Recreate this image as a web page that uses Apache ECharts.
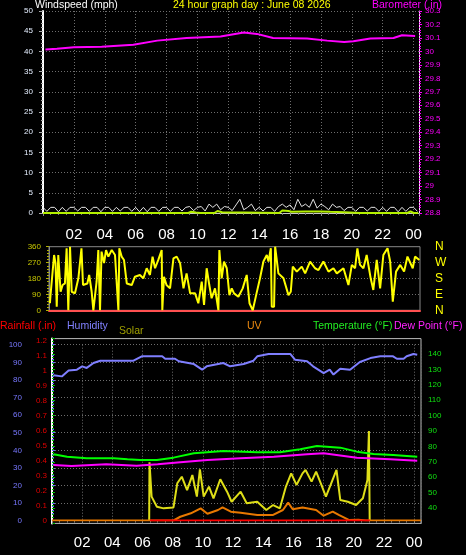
<!DOCTYPE html>
<html><head><meta charset="utf-8">
<script src="https://cdn.jsdelivr.net/npm/echarts@6/dist/echarts.min.js"></script>
<style>html,body{margin:0;padding:0;background:#000}#c{width:466px;height:555px}</style>
</head><body><div id="c"></div>
<script>
// ---- tick labels ----
const hourLabels = ['02','04','06','08','10','12','14','16','18','20','22','00'];
const compassLabels = ['N','E','S','W','N'];

// ---- top panel: wind speed (mph) and barometer (in) ----
const gustHours = [0,0.25,0.5,0.75,1,1.25,1.5,1.75,2,2.25,2.5,2.75,3,3.25,3.5,3.75,4,4.25,4.5,4.75,5,5.25,5.5,5.75,6,6.25,6.5,6.75,7,7.25,7.5,7.75,8,8.25,8.5,8.75,9,9.25,9.5,9.75,10,10.25,10.5,10.75,11,11.25,11.5,11.75,12,12.25,12.5,12.75,13,13.25,13.5,13.75,14,14.25,14.5,14.75,15,15.25,15.5,15.75,16,16.25,16.5,16.75,17,17.25,17.5,17.75,18,18.25,18.5,18.75,19,19.25,19.5,19.75,20,20.25,20.5,20.75,21,21.25,21.5,21.75,22,22.25,22.5,22.75,23,23.25,23.5,23.75,24,24.25];
const gustValues = [1.4,0.4,1.4,1.4,0.3,1.4,0.4,1.4, 1.4,0.5,1.4,1.4,0.4,1.4,1.4,0.3, 1.4,1.4,0.4,1.4,0.5,1.4,1.4,0.4, 1.4,0.3,1.4,0.3,1.4,1.4,0.4,1.4, 1.4,0.4,1.4,1.4,0.5,1.4,1.6,0.6, 1.4,1.6,0.5,2.2,1.4,2.2,0.8,1.6, 1.4,0.6,2.0,3.4,0.8,1.4,2.2,0.6, 1.4,0.5,1.4,1.4,0.4,1.6,2.2,1.4, 2.0,0.8,3.4,1.6,2.2,1.4,3.4,1.2, 2.2,1.6,0.8,2.2,1.4,1.6,0.6,1.4, 1.4,0.4,1.4,1.4,0.5,1.4,1.4,0.4, 1.4,0.4,1.4,1.4,0.3,1.4,0.4,1.4, 1.4,0.4];
const avgHours = [0,9.4,9.6,9.9,10.2,11.1,11.3,11.6,12,13,15.3,15.5,15.9,16.1,17,18,18.6,19.5,20.5,23.6,23.8,24,24.3];
const avgValues = [0,0,0.3,0.1,0,0,0.5,0.2,0.1,0.1,0,0.6,0.5,0.3,0.4,0.4,0.3,0.2,0,0,0.4,0,0];
const baroHours = [0.16,0.9,2,3.8,5.85,7.4,9.3,11.5,13,13.85,14.9,17.1,18.4,19.5,20.1,21.2,22.7,23.25,24.1];
const baroValues = [30.015,30.02,30.03,30.035,30.05,30.08,30.1,30.11,30.14,30.13,30.1,30.095,30.08,30.07,30.075,30.095,30.1,30.12,30.115];

// ---- wind direction (degrees) ----
const dirHours = [0.06,0.1,0.33,0.42,0.5,0.6,0.75,0.88,1.03,1.14,1.25,1.36,1.47,1.68,1.9,2.1,2.2,2.48,2.6,2.76,2.87,3.08,3.19,3.3,3.4,3.56,3.69,3.84,4.06,4.27,4.49,4.55,4.7,4.85,5.03,5.35,5.56,5.88,6.1,6.32,6.53,6.7,6.86,7.07,7.29,7.33,7.44,7.6,7.83,8.05,8.26,8.48,8.7,8.9,9.13,9.45,9.66,9.88,10.03,10.2,10.37,10.52,10.74,10.96,11.02,11.17,11.32,11.5,11.67,11.82,11.97,12.25,12.53,12.79,12.97,13.18,13.4,13.65,13.87,14.09,14.2,14.35,14.41,14.56,14.63,14.84,15.17,15.49,15.64,15.77,16.03,16.35,16.57,16.89,17.21,17.43,17.75,18.08,18.4,18.62,19.05,19.37,19.59,19.8,19.95,20.12,20.34,20.55,20.81,20.98,21.2,21.42,21.63,21.9,22.07,22.24,22.45,22.72,22.97,23.19,23.53,23.68,23.96];
const dirValues = [40,87,313,267,20,313,105,143,152,351,0,360,105,96,181,351,143,152,200,105,0,162,341,0,332,267,341,304,341,313,0,351,304,285,152,143,190,200,181,238,200,304,238,285,341,0,190,143,124,294,304,267,124,209,96,96,40,162,30,238,143,68,124,0,341,181,276,238,86,124,96,77,124,200,40,0,86,181,276,313,276,351,20,20,360,209,181,86,105,247,219,247,209,276,238,228,276,219,238,209,238,143,257,238,351,257,238,313,181,115,285,124,313,351,276,49,219,257,219,304,238,304,285];

// ---- bottom panel ----
const humHours = [0.1,0.65,1.1,1.65,2,2.3,2.75,3.2,5.4,5.95,7.3,7.5,8.15,8.4,9.4,9.95,10.25,11.35,11.8,12.7,13.35,13.6,14.35,15.8,16.1,16.9,17.3,18,18.4,18.65,19.1,19.75,20.4,21.1,21.75,22.6,22.85,23.3,23.5,23.95,24.2];
const humValues = [82.6,82,85.4,85.8,87.7,86.8,89.6,90.9,90.9,93.4,93.4,92,92,90.6,89,85.8,87.7,89.6,87.7,89,90.9,93.4,94.7,94.7,91.5,90.6,87.7,83.9,85.8,83,86.4,85.8,90.2,92.4,93.4,93.4,92,92,93.4,94.7,94.3];
const tempHours = [0.1,1,2.3,4.1,5,5.85,6.95,8.05,9.4,11.35,13.6,15.1,16.45,17.55,19.1,20.2,21.3,22.6,24.2];
const tempValues = [74.9,73.3,72.3,72.3,71.6,71.2,71.2,72.7,75.5,77,76.2,76.2,78.1,80.3,79.2,76.6,75.1,74.4,73.3];
const dewHours = [0.1,1.3,3.6,5.6,7,8.5,10.3,12.5,14.7,16.9,18,20.2,22.4,24.2];
const dewValues = [67.9,67.3,68.4,67.5,68.4,69.7,71.2,72.3,73.3,74.9,75.5,72.7,71.6,70.7];
const solarHours = [6.44,6.46,6.6,6.95,7.4,8.05,8.3,8.6,8.95,9.3,9.6,9.8,10.05,10.4,10.7,11.15,11.6,11.9,12.5,12.9,13.6,14.2,14.65,15.1,15.5,15.85,16.2,16.6,16.8,17.2,17.5,17.85,18.15,18.5,18.85,19.1,19.6,20.15,20.6,20.9,21,21.05];
const solarValues = [0,0.388,0.159,0.092,0.081,0.087,0.248,0.292,0.203,0.303,0.159,0.341,0.159,0.226,0.148,0.275,0.192,0.125,0.192,0.115,0.125,0.07,0.103,0.081,0.226,0.314,0.237,0.314,0.337,0.259,0.326,0.237,0.159,0.248,0.337,0.137,0.125,0.103,0.148,0.27,0.597,0];
const uvHours = [0,8.05,8.5,9.2,9.85,10.3,11,11.3,11.85,12.5,13.6,14.65,15.3,15.65,15.95,16.6,17.5,18,18.6,19,19.7,20.3,20.8,24.45];
const uvValues = [0,0,0.025,0.048,0.081,0.045,0.07,0.087,0.059,0.052,0.037,0.037,0.07,0.119,0.075,0.087,0.07,0.032,0.059,0.037,0.003,0.005,0,0];
const rainHours = [6.5,21.05];
const rainValues = [0,0];

const zip = (a, b) => a.map((x, i) => [x, b[i]]);
const dec1 = v => String(parseFloat(v.toFixed(1)));
const hourFmt = v => hourLabels[Math.round(v / 2) - 1] || '';
const dotted = { show: true, lineStyle: { color: '#6e6e6e', type: [1, 2], width: 1 } };
const FONT = 'Liberation Sans, Arial, sans-serif';
const t = (text, left, top, color) => ({ text, left, top, padding: 0, textStyle: { color, fontSize: 10.5, fontWeight: 'normal', fontFamily: FONT } });

const chart = echarts.init(document.getElementById('c'), null, { renderer: 'canvas' });
chart.setOption({
  backgroundColor: '#000',
  animation: false,
  title: [
    t('Windspeed (mph)', 35, 0, '#ffffff'),
    t('24 hour graph day : June 08 2026', 173, 0, '#ffff00'),
    t('Barometer (.in)', 372, 0, '#ff00ff'),
    t('Rainfall (.in)', 0, 321, '#ff0000'),
    t('Humidity', 67, 321, '#8080ff'),
    t('Solar', 119, 326, '#a0a000'),
    t('UV', 247, 321, '#f08c10'),
    t('Temperature (°F)', 313, 321, '#22ee22'),
    t('Dew Point (°F)', 394, 321, '#ff22ff')
  ],
  grid: [
    { left: 43, right: 47, top: 11, height: 202, show: false },
    { left: 49, right: 46, top: 246.7, height: 63.6, show: true, borderColor: '#888', borderWidth: 1, backgroundColor: 'transparent' },
    { left: 52, right: 45, top: 344.7, height: 176, show: false },
    { left: 52, right: 45, top: 340.5, height: 180, show: false },
    { left: 52, right: 45, top: 338.6, height: 184.8, show: true, borderColor: '#bbbbbb', borderWidth: 1, backgroundColor: 'transparent' }
  ],
  xAxis: [
    { gridIndex: 0, type: 'value', min: 0, max: 24.35, interval: 2,
      axisLine: { lineStyle: { color: '#c8c8c8', width: 1 } },
      axisTick: { show: true, length: 3, lineStyle: { color: '#888' } },
      minorTick: { show: true, splitNumber: 4, length: 2, lineStyle: { color: '#777' } },
      splitLine: dotted,
      axisLabel: { color: '#ffffff', fontSize: 15, fontFamily: FONT, margin: 14, showMinLabel: false, showMaxLabel: false, formatter: hourFmt } },
    { gridIndex: 1, type: 'value', min: 0, max: 24,
      axisLine: { lineStyle: { color: '#ff5050', width: 2 } },
      axisTick: { show: false }, axisLabel: { show: false }, splitLine: { show: false } },
    { gridIndex: 2, type: 'value', min: 0, max: 24.45, interval: 2,
      axisLine: { lineStyle: { color: '#c8c8c8', width: 1 } },
      axisTick: { show: true, length: 3, lineStyle: { color: '#888' } },
      minorTick: { show: true, splitNumber: 4, length: 2, lineStyle: { color: '#777' } },
      splitLine: dotted,
      axisLabel: { color: '#ffffff', fontSize: 15, fontFamily: FONT, margin: 15, showMinLabel: false, showMaxLabel: false, formatter: hourFmt } },
    { gridIndex: 3, type: 'value', min: 0, max: 24.45, show: false },
    { gridIndex: 4, type: 'value', min: 0, max: 24.45, show: false }
  ],
  yAxis: [
    { gridIndex: 0, type: 'value', position: 'left', min: 0, max: 50, interval: 5,
      axisLine: { show: true, lineStyle: { color: '#ffffff', width: 2 } },
      axisTick: { show: true, length: 4, lineStyle: { color: '#aaa' } },
      minorTick: { show: true, splitNumber: 5, length: 2, lineStyle: { color: '#aaa' } },
      splitLine: dotted,
      axisLabel: { color: '#e4eeff', fontSize: 8, fontFamily: FONT, margin: 10 } },
    { gridIndex: 0, type: 'value', position: 'right', min: 28.8, max: 30.3, interval: 0.1,
      axisLine: { show: true, lineStyle: { color: '#ffddff', width: 1 } },
      axisTick: { show: true, length: 3, lineStyle: { color: '#ff00ff' } },
      minorTick: { show: true, splitNumber: 5, length: 2, lineStyle: { color: '#ff00ff' } },
      splitLine: { show: false },
      axisLabel: { color: '#ff00ff', fontSize: 8, fontFamily: FONT, margin: 6, formatter: dec1 } },
    { gridIndex: 1, type: 'value', position: 'left', min: 0, max: 360, interval: 90,
      axisLine: { show: true, lineStyle: { color: '#888', width: 1 } },
      axisTick: { show: true, length: 3, lineStyle: { color: '#b0b000' } },
      minorTick: { show: true, splitNumber: 5, length: 2, lineStyle: { color: '#b0b000' } },
      splitLine: dotted,
      axisLabel: { color: '#c8c800', fontSize: 8, fontFamily: FONT, margin: 8 } },
    { gridIndex: 1, type: 'value', position: 'right', min: 0, max: 360, interval: 90,
      axisLine: { show: false }, axisTick: { show: false }, splitLine: { show: false },
      axisLabel: { color: '#ffff00', fontSize: 12, fontFamily: FONT, margin: 15, formatter: v => compassLabels[Math.round(v / 90)] } },
    { gridIndex: 2, type: 'value', position: 'left', offset: 22, min: 0, max: 100, interval: 10,
      axisLine: { show: true, lineStyle: { color: '#6a6aff', width: 2 } },
      axisTick: { show: true, inside: true, length: 3, lineStyle: { color: '#6a6aff' } },
      minorTick: { show: true, splitNumber: 5, length: 2, lineStyle: { color: '#6a6aff' } },
      splitLine: dotted,
      axisLabel: { color: '#7878ff', fontSize: 8, fontFamily: FONT, margin: 8 } },
    { gridIndex: 3, type: 'value', position: 'left', offset: 1, min: 0, max: 1.2, interval: 0.1,
      axisLine: { show: true, lineStyle: { color: '#ff0000', width: 1, type: [2, 2] } },
      axisTick: { show: false }, splitLine: { show: false },
      axisLabel: { color: '#e00000', fontSize: 8, fontFamily: FONT, margin: 4, formatter: dec1 } },
    { gridIndex: 4, type: 'value', position: 'right', min: 30, max: 150, interval: 10,
      axisLine: { show: true, lineStyle: { color: '#ffffff', width: 2 } },
      axisTick: { show: true, length: 3, lineStyle: { color: '#00c000' } },
      minorTick: { show: true, splitNumber: 5, length: 2, lineStyle: { color: '#00c000' } },
      splitLine: { show: false },
      axisLabel: { color: '#10e010', fontSize: 8, fontFamily: FONT, margin: 7, showMinLabel: false, showMaxLabel: false } }
  ],
  series: [
    { name: 'Gust', type: 'line', xAxisIndex: 0, yAxisIndex: 0, data: zip(gustHours, gustValues), symbol: 'none', lineStyle: { color: '#e4e4e4', width: 1 } },
    { name: 'Wind', type: 'line', xAxisIndex: 0, yAxisIndex: 0, data: zip(avgHours, avgValues), symbol: 'none', lineStyle: { color: '#b4f000', width: 2 } },
    { name: 'Barometer', type: 'line', xAxisIndex: 0, yAxisIndex: 1, data: zip(baroHours, baroValues), symbol: 'none', lineStyle: { color: '#ff00ff', width: 2 } },
    { name: 'Direction', type: 'line', xAxisIndex: 1, yAxisIndex: 2, data: zip(dirHours, dirValues), symbol: 'none', lineStyle: { color: '#ffff00', width: 2 } },
    { name: 'Humidity', type: 'line', xAxisIndex: 2, yAxisIndex: 4, data: zip(humHours, humValues), symbol: 'none', lineStyle: { color: '#7f7fff', width: 2 } },
    { name: 'Solar', type: 'line', xAxisIndex: 3, yAxisIndex: 5, data: zip(solarHours, solarValues), symbol: 'none', lineStyle: { color: '#dede18', width: 2 } },
    { name: 'UV', type: 'line', xAxisIndex: 3, yAxisIndex: 5, data: zip(uvHours, uvValues), symbol: 'none', lineStyle: { color: '#e87800', width: 2 } },
    { name: 'Rainfall', type: 'line', xAxisIndex: 3, yAxisIndex: 5, data: zip(rainHours, rainValues), symbol: 'none', lineStyle: { color: '#ff0000', width: 2 } },
    { name: 'Dew Point', type: 'line', xAxisIndex: 4, yAxisIndex: 6, data: zip(dewHours, dewValues), symbol: 'none', lineStyle: { color: '#ff00ff', width: 2 } },
    { name: 'Temperature', type: 'line', xAxisIndex: 4, yAxisIndex: 6, data: zip(tempHours, tempValues), symbol: 'none', lineStyle: { color: '#00ff00', width: 2 } }
  ]
});
</script></body></html>
